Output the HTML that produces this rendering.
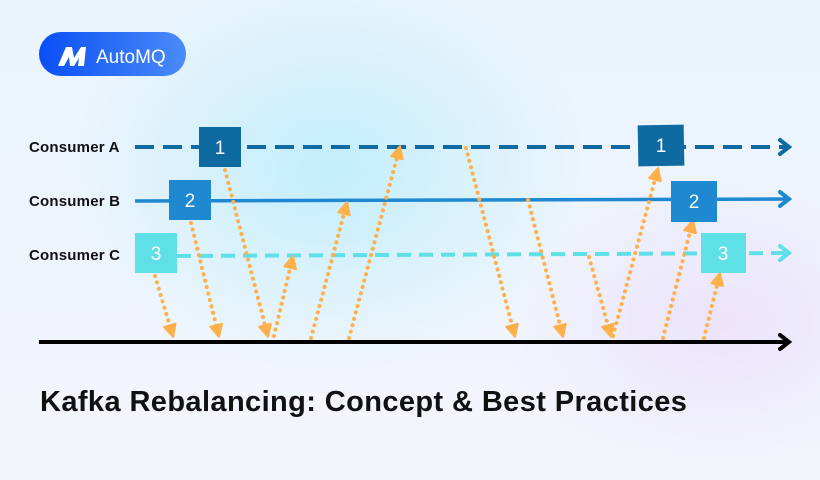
<!DOCTYPE html>
<html><head><meta charset="utf-8"><style>
body{margin:0;width:820px;height:480px;overflow:hidden;font-family:"Liberation Sans",sans-serif}
.bg{position:absolute;inset:0;background:
radial-gradient(ellipse 260px 200px at 330px 170px,#c2eefb 0%,rgba(194,238,251,0) 100%),
radial-gradient(ellipse 220px 150px at 720px 320px,#ece3fb 0%,rgba(236,227,251,0) 100%),
linear-gradient(180deg,#eaf4fd 0%,#f0f5fd 70%,#f4f5fc 100%)}
</style></head><body><div class="bg"></div>
<svg width="820" height="480" style="position:absolute;left:0;top:0" xmlns="http://www.w3.org/2000/svg">
<defs>
<linearGradient id="lg" x1="0" x2="1"><stop offset="0" stop-color="#0a4ff5"/><stop offset="1" stop-color="#4a8cf8"/></linearGradient>
<marker id="oa" markerWidth="16" markerHeight="16" refX="9" refY="7" orient="auto" markerUnits="userSpaceOnUse"><path d="M1,1 L13,7 L1,13 Z" fill="#ffb04a" stroke="#ffb04a" stroke-linejoin="round" stroke-width="2"/></marker>
</defs>
<rect x="39" y="32" width="147" height="44" rx="22" fill="url(#lg)"/>
<path d="M58,66 L66,47 L72,47 L74,58 L81,47 L86,47 L84,66 L78,66 L79,58 L74,66 L70,66 L69,57 L64,66 Z" fill="#fff"/>
<text x="96" y="63" fill="#fff" font-size="19" font-family="Liberation Sans" >AutoMQ</text>
<g font-weight="bold" font-size="15" fill="#111" letter-spacing="0.2"><text x="29" y="152">Consumer A</text><text x="29" y="206">Consumer B</text><text x="29" y="260">Consumer C</text></g>
<line x1="135" y1="147" x2="788" y2="147" stroke="#0e6aa0" stroke-width="4" stroke-dasharray="19,9"/>
<path d="M780,140 L789,147 L780,154" fill="none" stroke="#0e6aa0" stroke-width="4" stroke-linecap="round"/>
<line x1="135" y1="201" x2="788" y2="199" stroke="#1e88d0" stroke-width="3.5"/>
<path d="M780,192 L789,199 L780,206" fill="none" stroke="#1e88d0" stroke-width="4" stroke-linecap="round"/>
<line x1="177" y1="256" x2="788" y2="253" stroke="#5ee0e6" stroke-width="4" stroke-dasharray="14,8"/>
<path d="M780,246 L789,253 L780,260" fill="none" stroke="#5ee0e6" stroke-width="4" stroke-linecap="round"/>
<line x1="39" y1="342" x2="788" y2="342" stroke="#000" stroke-width="4"/>
<path d="M780,335 L789,342 L780,349" fill="none" stroke="#000" stroke-width="4" stroke-linecap="round"/>
<g stroke="#ffb04a" stroke-width="4" stroke-dasharray="0.1,6.5" stroke-linecap="round" fill="none" marker-end="url(#oa)">
<line x1="155" y1="276" x2="172" y2="333"/>
<line x1="191" y1="223" x2="218" y2="333"/>
<line x1="225" y1="170" x2="267" y2="333"/>
<line x1="274" y1="336" x2="292" y2="260"/>
<line x1="311" y1="338" x2="346" y2="206"/>
<line x1="349" y1="338" x2="399" y2="150"/>
<line x1="466" y1="148" x2="514" y2="333"/>
<line x1="528" y1="200" x2="562" y2="333"/>
<line x1="589" y1="257" x2="610" y2="333"/>
<line x1="613" y1="336" x2="657" y2="172"/>
<line x1="663" y1="338" x2="692" y2="224"/>
<line x1="704" y1="338" x2="719" y2="277"/>
</g>
<g font-size="19" fill="#fff" text-anchor="middle">
<rect x="199" y="127" width="42" height="40" fill="#0e6aa0"/><text x="220" y="154">1</text>
<rect x="169" y="180" width="42" height="40" fill="#1e88d0"/><text x="190" y="207">2</text>
<rect x="135" y="233" width="42" height="40" fill="#5ee0e6"/><text x="156" y="260">3</text>
<rect x="638" y="125" width="46" height="41" fill="#0e6aa0" transform="rotate(-1 661 145)"/><text x="661" y="152">1</text>
<rect x="671" y="181" width="46" height="41" fill="#1e88d0"/><text x="694" y="208">2</text>
<rect x="701" y="233" width="45" height="40" fill="#5ee0e6"/><text x="723" y="260">3</text>
</g>
<text x="40" y="411" font-size="29" font-weight="bold" fill="#111" letter-spacing="0.4">Kafka Rebalancing: Concept &amp; Best Practices</text>
</svg>
</body></html>
